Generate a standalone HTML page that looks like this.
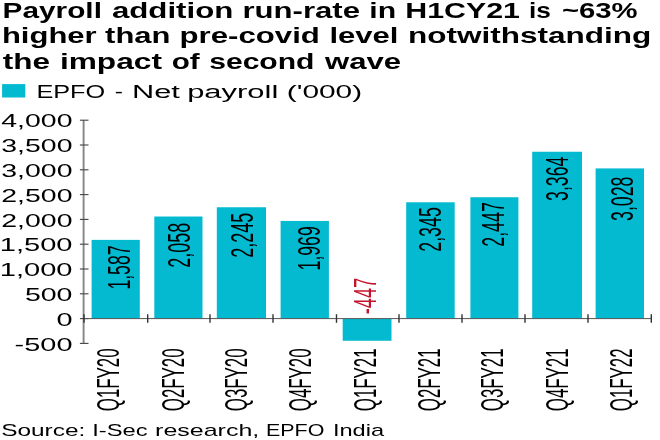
<!DOCTYPE html>
<html><head><meta charset="utf-8"><style>
html,body{margin:0;padding:0;background:#fff;width:660px;height:440px;overflow:hidden}
svg{display:block;will-change:transform}
text{font-family:"Liberation Sans",sans-serif;font-kerning:normal}
</style></head><body>
<svg width="660" height="440" viewBox="0 0 660 440">
<rect x="2.1" y="84.1" width="23.2" height="13.4" fill="#04bad0"/>
<rect x="91.6" y="239.88" width="48.20" height="78.72" fill="#04bad0"/>
<rect x="154.3" y="216.52" width="48.20" height="102.08" fill="#04bad0"/>
<rect x="216.8" y="207.25" width="49.20" height="111.35" fill="#04bad0"/>
<rect x="280.6" y="220.94" width="48.30" height="97.66" fill="#04bad0"/>
<rect x="342.7" y="318.60" width="48.80" height="22.17" fill="#04bad0"/>
<rect x="406.2" y="202.29" width="48.50" height="116.31" fill="#04bad0"/>
<rect x="470.4" y="197.23" width="48.00" height="121.37" fill="#04bad0"/>
<rect x="532.2" y="151.75" width="49.80" height="166.85" fill="#04bad0"/>
<rect x="595.6" y="168.41" width="48.40" height="150.19" fill="#04bad0"/>
<line x1="83.6" y1="120.20" x2="83.6" y2="343.40" stroke="#858585" stroke-width="1.9"/>
<line x1="79.9" y1="120.20" x2="88.5" y2="120.20" stroke="#444" stroke-width="1.1"/>
<line x1="79.9" y1="145.00" x2="88.5" y2="145.00" stroke="#444" stroke-width="1.1"/>
<line x1="79.9" y1="169.80" x2="88.5" y2="169.80" stroke="#444" stroke-width="1.1"/>
<line x1="79.9" y1="194.60" x2="88.5" y2="194.60" stroke="#444" stroke-width="1.1"/>
<line x1="79.9" y1="219.40" x2="88.5" y2="219.40" stroke="#444" stroke-width="1.1"/>
<line x1="79.9" y1="244.20" x2="88.5" y2="244.20" stroke="#444" stroke-width="1.1"/>
<line x1="79.9" y1="269.00" x2="88.5" y2="269.00" stroke="#444" stroke-width="1.1"/>
<line x1="79.9" y1="293.80" x2="88.5" y2="293.80" stroke="#444" stroke-width="1.1"/>
<line x1="79.9" y1="318.60" x2="88.5" y2="318.60" stroke="#444" stroke-width="1.1"/>
<line x1="79.9" y1="343.40" x2="88.5" y2="343.40" stroke="#444" stroke-width="1.1"/>
<line x1="83.6" y1="318.6" x2="651.3" y2="318.6" stroke="#555" stroke-width="1"/>
<line x1="84.00" y1="314.2" x2="84.00" y2="322.8" stroke="#333" stroke-width="1.4"/>
<line x1="147.70" y1="314.2" x2="147.70" y2="322.8" stroke="#333" stroke-width="1.4"/>
<line x1="210.00" y1="314.2" x2="210.00" y2="322.8" stroke="#333" stroke-width="1.4"/>
<line x1="273.00" y1="314.2" x2="273.00" y2="322.8" stroke="#333" stroke-width="1.4"/>
<line x1="336.50" y1="314.2" x2="336.50" y2="322.8" stroke="#333" stroke-width="1.4"/>
<line x1="399.00" y1="314.2" x2="399.00" y2="322.8" stroke="#333" stroke-width="1.4"/>
<line x1="462.00" y1="314.2" x2="462.00" y2="322.8" stroke="#333" stroke-width="1.4"/>
<line x1="525.00" y1="314.2" x2="525.00" y2="322.8" stroke="#333" stroke-width="1.4"/>
<line x1="588.00" y1="314.2" x2="588.00" y2="322.8" stroke="#333" stroke-width="1.4"/>
<line x1="651.30" y1="314.2" x2="651.30" y2="322.8" stroke="#333" stroke-width="1.4"/>
<text x="2.61" y="18.40" font-size="21.4" font-weight="bold" fill="#000000" textLength="99.30" lengthAdjust="spacingAndGlyphs">Payroll</text>
<text x="111.90" y="18.40" font-size="21.4" font-weight="bold" fill="#000000" textLength="121.46" lengthAdjust="spacingAndGlyphs">addition</text>
<text x="242.45" y="18.40" font-size="21.4" font-weight="bold" fill="#000000" textLength="117.55" lengthAdjust="spacingAndGlyphs">run-rate</text>
<text x="369.29" y="18.40" font-size="21.4" font-weight="bold" fill="#000000" textLength="26.81" lengthAdjust="spacingAndGlyphs">in</text>
<text x="405.28" y="18.40" font-size="21.4" font-weight="bold" fill="#000000" textLength="114.72" lengthAdjust="spacingAndGlyphs">H1CY21</text>
<text x="528.93" y="18.40" font-size="21.4" font-weight="bold" fill="#000000" textLength="21.85" lengthAdjust="spacingAndGlyphs">is</text>
<text x="562.00" y="18.40" font-size="21.4" font-weight="bold" fill="#000000" textLength="75.63" lengthAdjust="spacingAndGlyphs">~63%</text>
<text x="1.95" y="43.10" font-size="21.4" font-weight="bold" fill="#000000" textLength="94.72" lengthAdjust="spacingAndGlyphs">higher</text>
<text x="105.10" y="43.10" font-size="21.4" font-weight="bold" fill="#000000" textLength="65.34" lengthAdjust="spacingAndGlyphs">than</text>
<text x="179.54" y="43.10" font-size="21.4" font-weight="bold" fill="#000000" textLength="140.31" lengthAdjust="spacingAndGlyphs">pre-covid</text>
<text x="329.45" y="43.10" font-size="21.4" font-weight="bold" fill="#000000" textLength="69.02" lengthAdjust="spacingAndGlyphs">level</text>
<text x="407.93" y="43.10" font-size="21.4" font-weight="bold" fill="#000000" textLength="243.34" lengthAdjust="spacingAndGlyphs">notwithstanding</text>
<text x="2.80" y="68.80" font-size="21.4" font-weight="bold" fill="#000000" textLength="47.25" lengthAdjust="spacingAndGlyphs">the</text>
<text x="59.92" y="68.80" font-size="21.4" font-weight="bold" fill="#000000" textLength="102.06" lengthAdjust="spacingAndGlyphs">impact</text>
<text x="171.70" y="68.80" font-size="21.4" font-weight="bold" fill="#000000" textLength="27.98" lengthAdjust="spacingAndGlyphs">of</text>
<text x="209.20" y="68.80" font-size="21.4" font-weight="bold" fill="#000000" textLength="105.30" lengthAdjust="spacingAndGlyphs">second</text>
<text x="325.05" y="68.80" font-size="21.4" font-weight="bold" fill="#000000" textLength="76.10" lengthAdjust="spacingAndGlyphs">wave</text>
<text x="36.40" y="97.60" font-size="18.0" fill="#000000" textLength="68.75" lengthAdjust="spacingAndGlyphs">EPFO</text>
<text x="114.80" y="97.60" font-size="18.0" fill="#000000" textLength="8.19" lengthAdjust="spacingAndGlyphs">-</text>
<text x="131.99" y="97.60" font-size="18.0" fill="#000000" textLength="47.81" lengthAdjust="spacingAndGlyphs">Net</text>
<text x="187.18" y="97.60" font-size="18.0" fill="#000000" textLength="91.14" lengthAdjust="spacingAndGlyphs">payroll</text>
<text x="286.84" y="97.60" font-size="18.0" fill="#000000" textLength="75.30" lengthAdjust="spacingAndGlyphs">('000)</text>
<text x="1.20" y="435.80" font-size="15.7" fill="#000000" textLength="84.06" lengthAdjust="spacingAndGlyphs">Source:</text>
<text x="92.29" y="435.80" font-size="15.7" fill="#000000" textLength="55.38" lengthAdjust="spacingAndGlyphs">I-Sec</text>
<text x="155.11" y="435.80" font-size="15.7" fill="#000000" textLength="104.16" lengthAdjust="spacingAndGlyphs">research,</text>
<text x="266.03" y="435.80" font-size="15.7" fill="#000000" textLength="58.34" lengthAdjust="spacingAndGlyphs">EPFO</text>
<text x="332.90" y="435.80" font-size="15.7" fill="#000000" textLength="51.19" lengthAdjust="spacingAndGlyphs">India</text>
<text x="1.30" y="127.30" font-size="18.2" fill="#000000" textLength="71.18" lengthAdjust="spacingAndGlyphs">4,000</text>
<text x="1.30" y="152.10" font-size="18.2" fill="#000000" textLength="71.18" lengthAdjust="spacingAndGlyphs">3,500</text>
<text x="1.30" y="176.90" font-size="18.2" fill="#000000" textLength="71.18" lengthAdjust="spacingAndGlyphs">3,000</text>
<text x="1.30" y="201.70" font-size="18.2" fill="#000000" textLength="71.18" lengthAdjust="spacingAndGlyphs">2,500</text>
<text x="1.30" y="226.50" font-size="18.2" fill="#000000" textLength="71.18" lengthAdjust="spacingAndGlyphs">2,000</text>
<text x="-0.30" y="251.30" font-size="18.2" fill="#000000" textLength="72.78" lengthAdjust="spacingAndGlyphs">1,500</text>
<text x="-0.30" y="276.10" font-size="18.2" fill="#000000" textLength="72.78" lengthAdjust="spacingAndGlyphs">1,000</text>
<text x="24.90" y="300.90" font-size="18.2" fill="#000000" textLength="47.58" lengthAdjust="spacingAndGlyphs">500</text>
<text x="56.40" y="325.70" font-size="18.2" fill="#000000" textLength="16.08" lengthAdjust="spacingAndGlyphs">0</text>
<text x="14.60" y="350.50" font-size="18.2" fill="#000000" textLength="57.88" lengthAdjust="spacingAndGlyphs">-500</text>
<text transform="translate(130.35,0) rotate(-90)" x="-289.61" y="0" font-size="31.9" fill="#000000" textLength="44.16" lengthAdjust="spacingAndGlyphs">1,587</text>
<text transform="translate(189.85,0) rotate(-90)" x="-267.71" y="0" font-size="31.9" fill="#000000" textLength="44.93" lengthAdjust="spacingAndGlyphs">2,058</text>
<text transform="translate(252.55,0) rotate(-90)" x="-257.71" y="0" font-size="31.9" fill="#000000" textLength="44.93" lengthAdjust="spacingAndGlyphs">2,245</text>
<text transform="translate(319.55,0) rotate(-90)" x="-270.41" y="0" font-size="31.9" fill="#000000" textLength="44.11" lengthAdjust="spacingAndGlyphs">1,969</text>
<text transform="translate(375.95,0) rotate(-90)" x="-314.27" y="0" font-size="31.9" fill="#c4142c" textLength="36.39" lengthAdjust="spacingAndGlyphs">-447</text>
<text transform="translate(440.65,0) rotate(-90)" x="-251.76" y="0" font-size="31.9" fill="#000000" textLength="44.57" lengthAdjust="spacingAndGlyphs">2,345</text>
<text transform="translate(503.65,0) rotate(-90)" x="-246.76" y="0" font-size="31.9" fill="#000000" textLength="44.57" lengthAdjust="spacingAndGlyphs">2,447</text>
<text transform="translate(568.45,0) rotate(-90)" x="-200.95" y="0" font-size="31.9" fill="#000000" textLength="44.26" lengthAdjust="spacingAndGlyphs">3,364</text>
<text transform="translate(632.85,0) rotate(-90)" x="-220.95" y="0" font-size="31.9" fill="#000000" textLength="44.26" lengthAdjust="spacingAndGlyphs">3,028</text>
<text transform="translate(119.40,0) rotate(-90)" x="-411.25" y="0" font-size="30.6" fill="#000000" textLength="62.91" lengthAdjust="spacingAndGlyphs">Q1FY20</text>
<text transform="translate(183.75,0) rotate(-90)" x="-411.25" y="0" font-size="30.6" fill="#000000" textLength="62.91" lengthAdjust="spacingAndGlyphs">Q2FY20</text>
<text transform="translate(246.90,0) rotate(-90)" x="-411.25" y="0" font-size="30.6" fill="#000000" textLength="62.91" lengthAdjust="spacingAndGlyphs">Q3FY20</text>
<text transform="translate(311.15,0) rotate(-90)" x="-411.25" y="0" font-size="30.6" fill="#000000" textLength="62.91" lengthAdjust="spacingAndGlyphs">Q4FY20</text>
<text transform="translate(375.75,0) rotate(-90)" x="-411.25" y="0" font-size="30.6" fill="#000000" textLength="62.91" lengthAdjust="spacingAndGlyphs">Q1FY21</text>
<text transform="translate(440.05,0) rotate(-90)" x="-411.25" y="0" font-size="30.6" fill="#000000" textLength="62.91" lengthAdjust="spacingAndGlyphs">Q2FY21</text>
<text transform="translate(503.40,0) rotate(-90)" x="-411.25" y="0" font-size="30.6" fill="#000000" textLength="62.91" lengthAdjust="spacingAndGlyphs">Q3FY21</text>
<text transform="translate(567.65,0) rotate(-90)" x="-411.25" y="0" font-size="30.6" fill="#000000" textLength="62.91" lengthAdjust="spacingAndGlyphs">Q4FY21</text>
<text transform="translate(632.05,0) rotate(-90)" x="-411.25" y="0" font-size="30.6" fill="#000000" textLength="62.91" lengthAdjust="spacingAndGlyphs">Q1FY22</text>
</svg>
</body></html>
